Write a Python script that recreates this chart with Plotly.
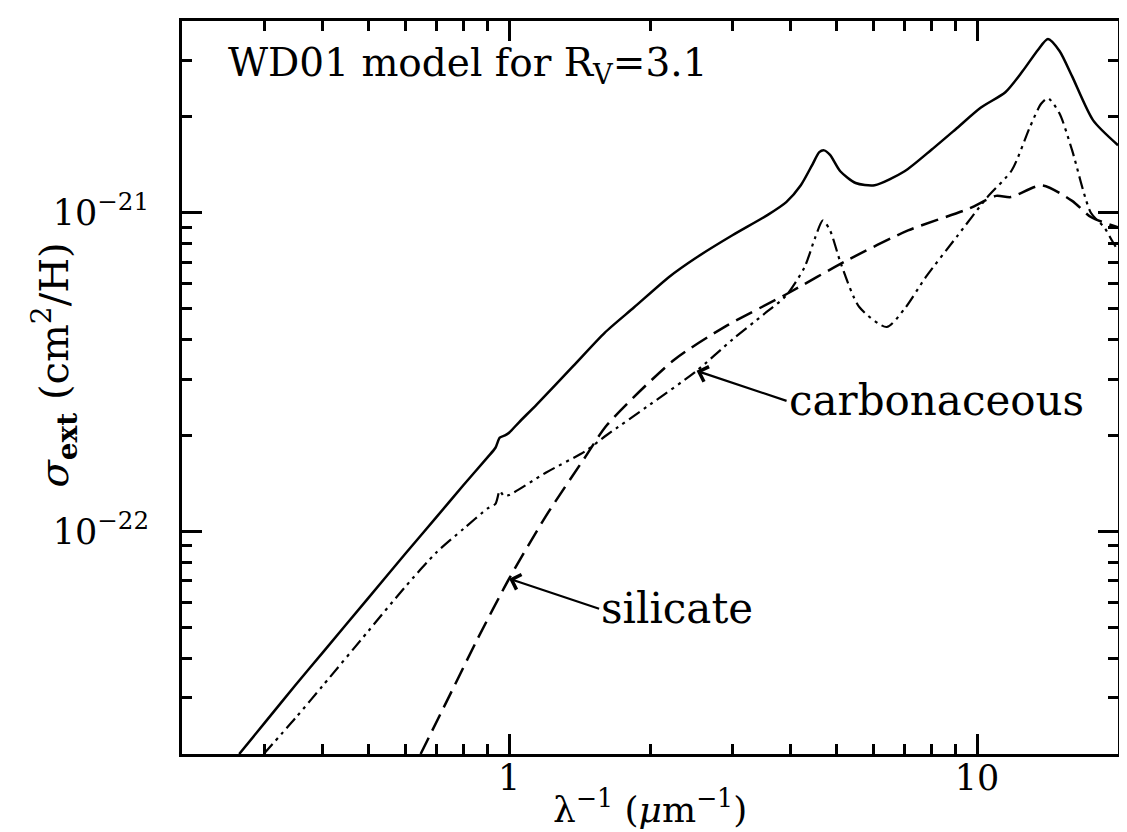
import plotly.graph_objects as go
import numpy as np

# ---- data ----
# total extinction (solid)
x_total = [0.265, 0.3, 0.35, 0.4, 0.5, 0.6, 0.7, 0.8, 0.9, 0.935, 0.955, 0.98, 1.0, 1.05, 1.145, 1.37,
           1.6, 1.85, 2.2, 2.5, 3.0, 3.57, 3.91, 4.2, 4.45, 4.6, 4.71, 4.85, 5.1, 5.5, 6.04, 7.0,
           8.0, 9.0, 10.19, 11.49, 12.5, 13.5, 14.17, 15.0, 15.96, 17.7, 20.0]
y_total = [2.0e-23, 2.5e-23, 3.3e-23, 4.17e-23, 6.17e-23, 8.5e-23, 1.11e-22, 1.40e-22, 1.71e-22,
           1.83e-22, 1.97e-22, 2.0e-22, 2.04e-22, 2.2e-22, 2.5e-22, 3.3e-22, 4.2e-22, 5.05e-22,
           6.3e-22, 7.2e-22, 8.5e-22, 9.85e-22, 1.08e-21, 1.22e-21, 1.42e-21, 1.55e-21, 1.57e-21,
           1.52e-21, 1.35e-21, 1.24e-21, 1.22e-21, 1.35e-21, 1.58e-21, 1.83e-21, 2.14e-21, 2.39e-21,
           2.78e-21, 3.25e-21, 3.51e-21, 3.22e-21, 2.68e-21, 1.95e-21, 1.63e-21]

# carbonaceous grains (dash-dot)
x_carb = [0.299, 0.35, 0.4, 0.5, 0.6, 0.7, 0.8, 0.9, 0.935, 0.955, 0.975, 1.0, 1.2, 1.45, 1.62, 2.0,
          2.515, 3.0, 3.5, 3.91, 4.28, 4.5, 4.68, 4.85, 5.12, 5.6, 6.41, 7.0, 7.78, 9.04, 10.52,
          11.86, 12.95, 13.7, 14.17, 15.0, 15.96, 17.5, 18.7, 19.4, 20.0]
y_carb = [2.0e-23, 2.6e-23, 3.28e-23, 4.86e-23, 6.7e-23, 8.6e-23, 1.02e-22, 1.18e-22, 1.22e-22,
          1.34e-22, 1.29e-22, 1.3e-22, 1.53e-22, 1.78e-22, 2.01e-22, 2.5e-22, 3.19e-22, 4.0e-22,
          4.8e-22, 5.5e-22, 6.76e-22, 8.3e-22, 9.46e-22, 8.8e-22, 6.9e-22, 5.06e-22, 4.38e-22,
          5.0e-22, 6.3e-22, 8.4e-22, 1.12e-21, 1.36e-21, 1.85e-21, 2.2e-21, 2.29e-21, 2.05e-21,
          1.57e-21, 1.0e-21, 9.0e-22, 8.2e-22, 7.6e-22]

# silicate grains (dashed)
x_sil = [0.647, 0.75, 0.85, 1.0, 1.2, 1.45, 1.62, 2.25, 2.9, 3.91, 5.28, 7.12, 9.6, 10.98, 11.8,
         13.75, 15.96, 17.5, 20.0]
y_sil = [2.0e-23, 3.1e-23, 4.5e-23, 7.1e-23, 1.12e-22, 1.70e-22, 2.16e-22, 3.45e-22, 4.4e-22, 5.55e-22,
         7.1e-22, 8.8e-22, 1.03e-21, 1.13e-21, 1.12e-21, 1.22e-21, 1.09e-21, 9.7e-22, 9.0e-22]

# axes
x_range = [0.2, 20.0]
y_range = [2e-23, 4e-21]
x_major = [1, 10]
x_major_text = ["1", "10"]
x_minor = [0.3, 0.4, 0.5, 0.6, 0.7, 0.8, 0.9, 2, 3, 4, 5, 6, 7, 8, 9]
y_major = [1e-22, 1e-21]
y_major_text = ["10<sup>\u221222</sup>", "10<sup>\u221221</sup>"]
y_minor = [3e-23, 4e-23, 5e-23, 6e-23, 7e-23, 8e-23, 9e-23,
           2e-22, 3e-22, 4e-22, 5e-22, 6e-22, 7e-22, 8e-22, 9e-22, 2e-21, 3e-21, 4e-21]

# label anchor points (on curves)
carb_label_pt = (2.515, 3.19e-22)
sil_label_pt = (1.0, 7.1e-23)

FONT = "DejaVu Serif"
W, H = 1127, 832
L, R, T, B = 174, 17, 10, 86
PW, PH = W - L - R, H - T - B

fig = go.Figure()
fig.add_trace(go.Scatter(x=x_total, y=y_total, mode="lines",
                         line=dict(color="black", width=2.5, shape="spline", smoothing=0.7)))
fig.add_trace(go.Scatter(x=x_sil, y=y_sil, mode="lines",
                         line=dict(color="black", width=2.5, dash="18px,8px", shape="spline", smoothing=0.7)))
fig.add_trace(go.Scatter(x=x_carb, y=y_carb, mode="lines",
                         line=dict(color="black", width=2.2, dash="13px,5px,3px,5px,3px,5px",
                                   shape="spline", smoothing=0.7)))

axis_common = dict(
    type="log", showgrid=False, zeroline=False,
    showline=True, linecolor="black", linewidth=3, mirror="allticks",
    ticks="inside", ticklen=20, tickwidth=2.5, tickcolor="black",
    tickfont=dict(family=FONT, size=35, color="black"),
)

fig.update_xaxes(**axis_common, range=[np.log10(x_range[0]), np.log10(x_range[1])],
                 tickmode="array", tickvals=x_major, ticktext=x_major_text,
                 minor=dict(ticks="inside", ticklen=10, tickwidth=2.5, tickcolor="black",
                            tickvals=x_minor, showgrid=False),
                 ticklabelstandoff=-9)
fig.update_yaxes(**axis_common, range=[np.log10(y_range[0]), np.log10(y_range[1])],
                 tickmode="array", tickvals=y_major, ticktext=y_major_text,
                 minor=dict(ticks="inside", ticklen=10, tickwidth=2.5, tickcolor="black",
                            tickvals=y_minor, showgrid=False),
                 ticklabelstandoff=23)

def px(xp):
    return (xp - L) / PW

def py(yp):
    return (H - B - yp) / PH

annos = [
    dict(text="WD01 model for R<sub>V</sub>=3.1", xref="paper", yref="paper",
         x=px(218), y=py(54), xanchor="left", yanchor="middle", showarrow=False,
         font=dict(family=FONT, size=39, color="black")),
    dict(text="\u03bb<sup>\u22121</sup> (<i>\u03bc</i>m<sup>\u22121</sup>)", xref="paper", yref="paper",
         x=px(642), y=py(824), xanchor="center", yanchor="bottom", showarrow=False,
         font=dict(family=FONT, size=36, color="black")),
    dict(text="<i>\u03c3</i><sub><b>ext</b></sub> (cm<sup>2</sup>/H)", xref="paper", yref="paper",
         x=px(46), y=py(356), xanchor="center", yanchor="middle", showarrow=False, textangle=-90,
         font=dict(family=FONT, size=40, color="black")),
]
for (pt, txt) in [(carb_label_pt, "carbonaceous"), (sil_label_pt, "silicate")]:
    lx, ly = np.log10(pt[0]), np.log10(pt[1])
    annos.append(dict(x=lx, y=ly, xref="x", yref="y", text=txt, showarrow=True,
                      ax=90, ay=30, axref="pixel", ayref="pixel",
                      xanchor="left", yanchor="middle",
                      arrowhead=4, arrowsize=1.4, arrowwidth=2.2, arrowcolor="black", standoff=0,
                      font=dict(family=FONT, size=42, color="black")))

fig.update_layout(
    width=W, height=H, margin=dict(l=L, r=R, t=T, b=B, pad=0),
    paper_bgcolor="white", plot_bgcolor="white", showlegend=False,
    annotations=annos,
)

fig.write_html("out.html")
